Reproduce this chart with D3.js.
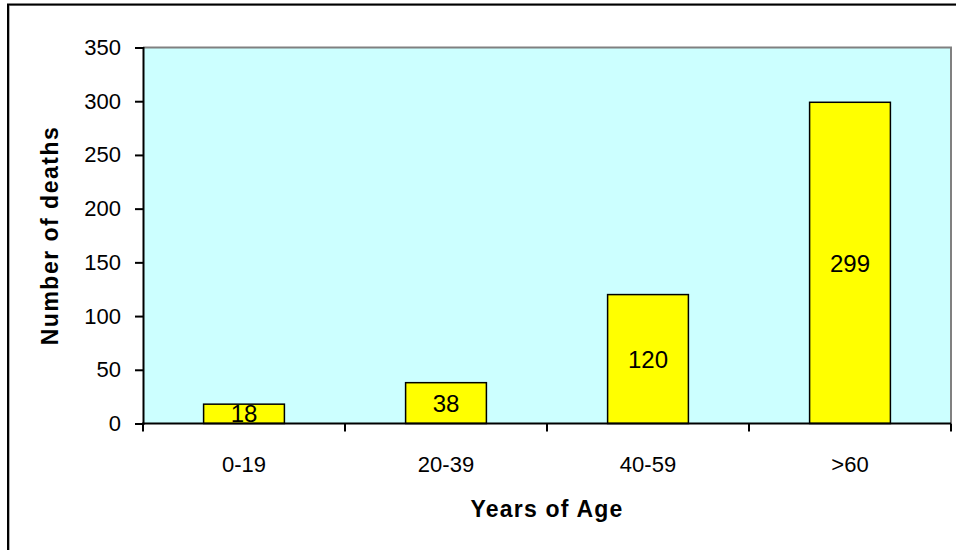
<!DOCTYPE html>
<html><head><meta charset="utf-8">
<script src="https://cdn.jsdelivr.net/npm/d3@7"></script>
<style>body{margin:0;background:#fff;} svg{display:block;} text{font-family:Arial,"Liberation Sans",sans-serif;}</style>
</head><body>
<svg id="c" width="956" height="550"></svg>
<script>
const categories = ["0-19", "20-39", "40-59", ">60"];
const deaths = [18, 38, 120, 299];
const yTicks = [0, 50, 100, 150, 200, 250, 300, 350];
const xTitle = "Years of Age";
const yTitle = "Number of deaths";

const svg = d3.select("#c");
const L = 143, R = 951, T = 47.5, B = 423.5;

// outer frame
svg.append("rect").attr("x", 9.5).attr("y", 5.5).attr("width", 1000).attr("height", 1000)
  .attr("fill", "none").attr("stroke", "#b0b0b0").attr("stroke-width", 1);
svg.append("rect").attr("x", 8).attr("y", 4.5).attr("width", 1000).attr("height", 1000)
  .attr("fill", "none").attr("stroke", "#000").attr("stroke-width", 2);

const x = d3.scaleBand().domain(categories).range([L, R]).paddingInner(0.6).paddingOuter(0.3);
const y = d3.scaleLinear().domain([0, 350]).range([B, T]);

// plot background
svg.append("rect").attr("x", L).attr("y", T).attr("width", R - L).attr("height", B - T)
  .attr("fill", "#CCFFFF");
// gray top and right border
svg.append("path").attr("d", `M${L},${T}H${R}V${B}`).attr("fill", "none")
  .attr("stroke", "#808080").attr("stroke-width", 2);

// bars
const data = categories.map((c, i) => ({c, v: deaths[i]}));
svg.selectAll("rect.bar").data(data).join("rect").attr("class", "bar")
  .attr("x", d => x(d.c)).attr("width", x.bandwidth())
  .attr("y", d => y(d.v)).attr("height", d => y(0) - y(d.v))
  .attr("fill", "#FFFF00").attr("stroke", "#000").attr("stroke-width", 1.5);

// data labels
svg.selectAll("text.lbl").data(data).join("text").attr("class", "lbl")
  .attr("x", d => x(d.c) + x.bandwidth() / 2)
  .attr("y", d => (y(d.v) + y(0)) / 2)
  .attr("dy", "0.36em").attr("text-anchor", "middle")
  .attr("font-size", 24).attr("fill", "#000").text(d => d.v);

// y axis
const ya = svg.append("g").attr("transform", `translate(${L},0)`)
  .call(d3.axisLeft(y).tickValues(yTicks).tickSize(8).tickPadding(14));
ya.select(".domain").attr("stroke", "#000").attr("stroke-width", 2);
ya.selectAll(".tick line").attr("stroke", "#000").attr("stroke-width", 2);
ya.selectAll(".tick text").attr("font-size", 22).attr("fill", "#000")
  .attr("font-family", "Arial, 'Liberation Sans', sans-serif");

// x axis
const xa = svg.append("g").attr("transform", `translate(0,${B})`)
  .call(d3.axisBottom(x).tickSize(0).tickPadding(33));
xa.select(".domain").remove();
xa.selectAll(".tick text").attr("font-size", 22).attr("fill", "#000")
  .attr("font-family", "Arial, 'Liberation Sans', sans-serif");
xa.append("line").attr("x1", L - 1).attr("x2", R).attr("y1", 0).attr("y2", 0)
  .attr("stroke", "#000").attr("stroke-width", 2);
const bounds = d3.range(categories.length + 1).map(i => L + i * x.step());
xa.selectAll("line.bt").data(bounds).join("line").attr("class", "bt")
  .attr("x1", d => d).attr("x2", d => d).attr("y1", 0).attr("y2", 8)
  .attr("stroke", "#000").attr("stroke-width", 2);

// titles
svg.append("text").attr("x", (L + R) / 2).attr("y", 517).attr("text-anchor", "middle")
  .attr("font-size", 23).attr("font-weight", "bold").attr("letter-spacing", 1.2).text(xTitle);
svg.append("text").attr("transform", `translate(58,${(T + B) / 2}) rotate(-90)`)
  .attr("text-anchor", "middle").attr("font-size", 23).attr("font-weight", "bold")
  .attr("letter-spacing", 1.5).text(yTitle);
</script>
</body></html>
